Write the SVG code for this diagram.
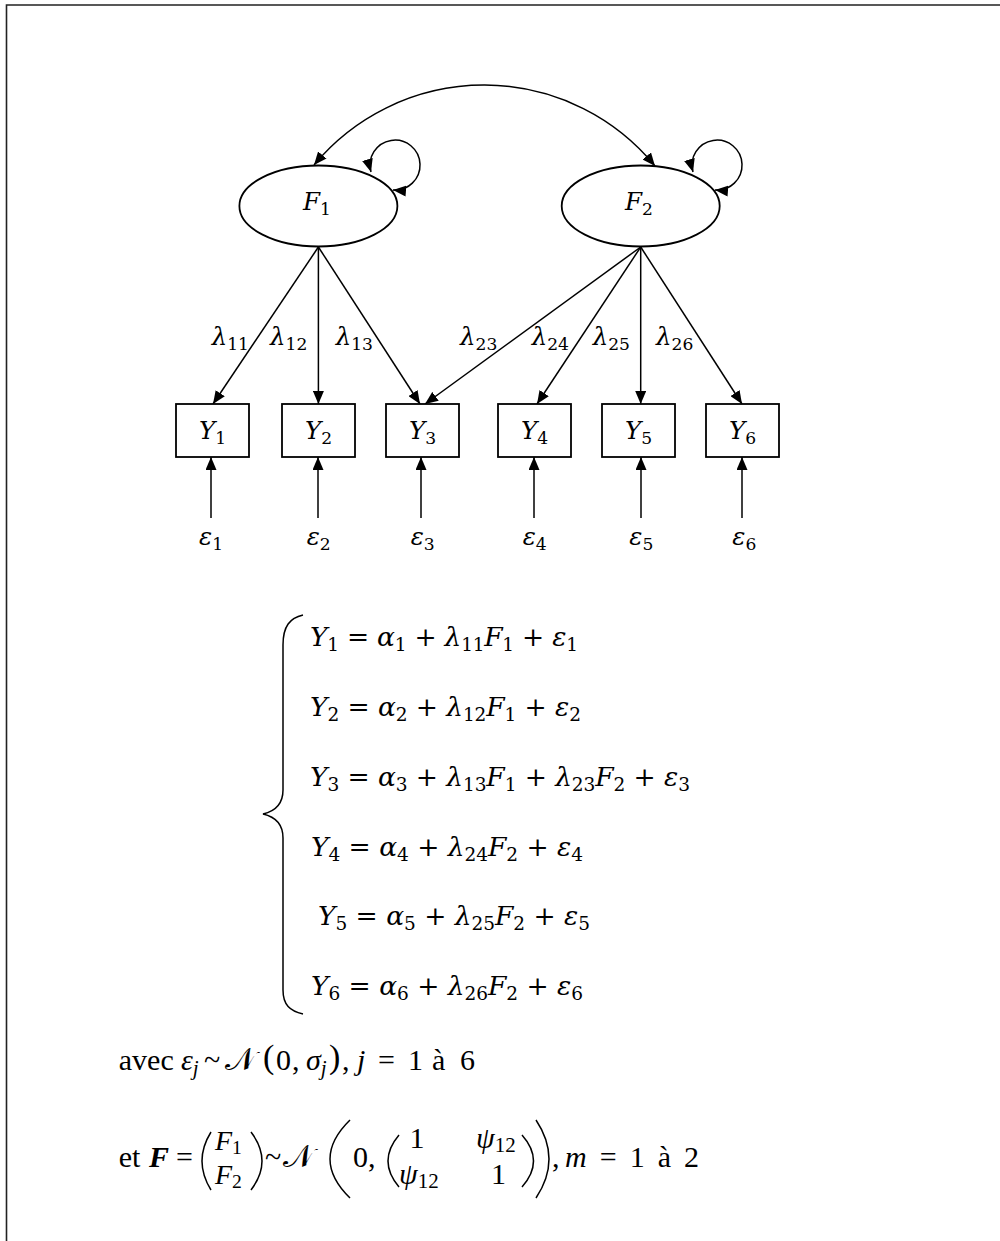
<svg xmlns="http://www.w3.org/2000/svg" width="1000" height="1241" viewBox="0 0 1000 1241">
<defs>
<marker id="ah" viewBox="0 0 13 11" markerWidth="13" markerHeight="11" refX="13" refY="5.5" orient="auto-start-reverse" markerUnits="userSpaceOnUse"><path d="M0,0 L13,5.5 L0,11 z" fill="#000"/></marker>
<style>
.frame{stroke:#222;stroke-width:1.6;fill:none}
.node{fill:#fff;stroke:#000;stroke-width:1.8}
.edge{fill:none;stroke:#000;stroke-width:1.5;marker-end:url(#ah)}
.both{marker-start:url(#ah)}
.m{font-family:"DejaVu Serif","Liberation Serif",serif;font-style:italic;fill:#000}
.u{font-style:normal}
.s{font-style:normal;font-size:0.7em}
.si{font-style:italic;font-size:0.7em}
.lab{font-size:24.5px}
.eq{font-size:26.5px}
.t{font-family:"Liberation Serif",serif;font-size:30px;fill:#000}
.i{font-style:italic}
.scr{font-family:"DejaVu Serif","DejaVu Sans","Noto Sans",serif;font-size:32px;fill:#000}
.par{font-size:34px}
.brk{fill:none;stroke:#000;stroke-width:1.5}
</style>
</defs>
<rect width="1000" height="1241" fill="#fff"/>
<path class="frame" d="M6.5 1241 V5 H1000"/>

<g id="connectors">
<path class="edge both" d="M314 165 A221 221 0 0 1 655 166"/>
<path class="edge both" d="M371 172 A25 25 0 1 1 393 190"/>
<path class="edge both" d="M693 172 A25 25 0 1 1 715 190"/>
<path class="edge" d="M318.4 247 L213 404"/>
<path class="edge" d="M318.4 247 L318.4 404"/>
<path class="edge" d="M318.4 247 L420 404"/>
<path class="edge" d="M640.7 247 L425 404"/>
<path class="edge" d="M640.7 247 L537 404"/>
<path class="edge" d="M640.7 247 L640.7 404"/>
<path class="edge" d="M640.7 247 L742 404"/>
<path class="edge" d="M211 518 L211 457"/>
<path class="edge" d="M318 518 L318 457"/>
<path class="edge" d="M421 518 L421 457"/>
<path class="edge" d="M534 518 L534 457"/>
<path class="edge" d="M641 518 L641 457"/>
<path class="edge" d="M742 518 L742 457"/>
<g class="m lab">
<text x="211.7" y="345">λ<tspan class="s" dy="5">11</tspan></text>
<text x="270" y="345">λ<tspan class="s" dy="5">12</tspan></text>
<text x="335.7" y="345">λ<tspan class="s" dy="5">13</tspan></text>
<text x="460" y="345">λ<tspan class="s" dy="5">23</tspan></text>
<text x="531.7" y="345">λ<tspan class="s" dy="5">24</tspan></text>
<text x="592.7" y="345">λ<tspan class="s" dy="5">25</tspan></text>
<text x="656" y="345">λ<tspan class="s" dy="5">26</tspan></text>
</g>
</g>

<g id="F1"><ellipse class="node" cx="318.4" cy="206" rx="79" ry="40.5"/><text class="m lab" x="317" y="210" text-anchor="middle">F<tspan class="s" dy="5">1</tspan></text></g>
<g id="F2"><ellipse class="node" cx="640.7" cy="206" rx="79" ry="40.5"/><text class="m lab" x="639" y="210" text-anchor="middle">F<tspan class="s" dy="5">2</tspan></text></g>

<g id="Y1"><rect class="node" x="176" y="404" width="73" height="53"/><text class="m lab" x="212.5" y="439" text-anchor="middle">Y<tspan class="s" dy="5">1</tspan></text></g>
<g id="Y2"><rect class="node" x="282" y="404" width="73" height="53"/><text class="m lab" x="318.5" y="439" text-anchor="middle">Y<tspan class="s" dy="5">2</tspan></text></g>
<g id="Y3"><rect class="node" x="386" y="404" width="73" height="53"/><text class="m lab" x="422.5" y="439" text-anchor="middle">Y<tspan class="s" dy="5">3</tspan></text></g>
<g id="Y4"><rect class="node" x="498" y="404" width="73" height="53"/><text class="m lab" x="534.5" y="439" text-anchor="middle">Y<tspan class="s" dy="5">4</tspan></text></g>
<g id="Y5"><rect class="node" x="602" y="404" width="73" height="53"/><text class="m lab" x="638.5" y="439" text-anchor="middle">Y<tspan class="s" dy="5">5</tspan></text></g>
<g id="Y6"><rect class="node" x="706" y="404" width="73" height="53"/><text class="m lab" x="742.5" y="439" text-anchor="middle">Y<tspan class="s" dy="5">6</tspan></text></g>

<g id="e1"><text class="m lab" x="199" y="545">ε<tspan class="s" dy="5">1</tspan></text></g>
<g id="e2"><text class="m lab" x="306.7" y="545">ε<tspan class="s" dy="5">2</tspan></text></g>
<g id="e3"><text class="m lab" x="410.7" y="545">ε<tspan class="s" dy="5">3</tspan></text></g>
<g id="e4"><text class="m lab" x="522.7" y="545">ε<tspan class="s" dy="5">4</tspan></text></g>
<g id="e5"><text class="m lab" x="629.3" y="545">ε<tspan class="s" dy="5">5</tspan></text></g>
<g id="e6"><text class="m lab" x="732.3" y="545">ε<tspan class="s" dy="5">6</tspan></text></g>

<g id="equations">
<path class="brk" d="M303 615 C290 618 283 626 283 645 L283 790 C283 803 276 811 263 814 C276 817 283 825 283 838 L283 990 C283 1005 290 1011 303 1014"/>
<text class="m eq" x="310" y="646" textLength="268" lengthAdjust="spacing">Y<tspan class="s" dy="5">1</tspan><tspan class="u" dy="-5"> = </tspan>α<tspan class="s" dy="5">1</tspan><tspan class="u" dy="-5"> + </tspan>λ<tspan class="s" dy="5">11</tspan><tspan dy="-5">F</tspan><tspan class="s" dy="5">1</tspan><tspan class="u" dy="-5"> + </tspan>ε<tspan class="s" dy="5">1</tspan></text>
<text class="m eq" x="310" y="716" textLength="271" lengthAdjust="spacing">Y<tspan class="s" dy="5">2</tspan><tspan class="u" dy="-5"> = </tspan>α<tspan class="s" dy="5">2</tspan><tspan class="u" dy="-5"> + </tspan>λ<tspan class="s" dy="5">12</tspan><tspan dy="-5">F</tspan><tspan class="s" dy="5">1</tspan><tspan class="u" dy="-5"> + </tspan>ε<tspan class="s" dy="5">2</tspan></text>
<text class="m eq" x="310" y="786" textLength="380" lengthAdjust="spacing">Y<tspan class="s" dy="5">3</tspan><tspan class="u" dy="-5"> = </tspan>α<tspan class="s" dy="5">3</tspan><tspan class="u" dy="-5"> + </tspan>λ<tspan class="s" dy="5">13</tspan><tspan dy="-5">F</tspan><tspan class="s" dy="5">1</tspan><tspan class="u" dy="-5"> + </tspan>λ<tspan class="s" dy="5">23</tspan><tspan dy="-5">F</tspan><tspan class="s" dy="5">2</tspan><tspan class="u" dy="-5"> + </tspan>ε<tspan class="s" dy="5">3</tspan></text>
<text class="m eq" x="311" y="856" textLength="272" lengthAdjust="spacing">Y<tspan class="s" dy="5">4</tspan><tspan class="u" dy="-5"> = </tspan>α<tspan class="s" dy="5">4</tspan><tspan class="u" dy="-5"> + </tspan>λ<tspan class="s" dy="5">24</tspan><tspan dy="-5">F</tspan><tspan class="s" dy="5">2</tspan><tspan class="u" dy="-5"> + </tspan>ε<tspan class="s" dy="5">4</tspan></text>
<text class="m eq" x="318" y="925" textLength="272" lengthAdjust="spacing">Y<tspan class="s" dy="5">5</tspan><tspan class="u" dy="-5"> = </tspan>α<tspan class="s" dy="5">5</tspan><tspan class="u" dy="-5"> + </tspan>λ<tspan class="s" dy="5">25</tspan><tspan dy="-5">F</tspan><tspan class="s" dy="5">2</tspan><tspan class="u" dy="-5"> + </tspan>ε<tspan class="s" dy="5">5</tspan></text>
<text class="m eq" x="311" y="995" textLength="272" lengthAdjust="spacing">Y<tspan class="s" dy="5">6</tspan><tspan class="u" dy="-5"> = </tspan>α<tspan class="s" dy="5">6</tspan><tspan class="u" dy="-5"> + </tspan>λ<tspan class="s" dy="5">26</tspan><tspan dy="-5">F</tspan><tspan class="s" dy="5">2</tspan><tspan class="u" dy="-5"> + </tspan>ε<tspan class="s" dy="5">6</tspan></text>

<g class="t">
<text x="118.75" y="1070">avec</text>
<text class="i" x="181" y="1070">ε<tspan class="si" dy="5">j</tspan></text>
<text x="204" y="1070">~</text>
<text class="scr" x="225" y="1070">𝒩</text>
<text class="par" x="263" y="1068">(</text>
<text x="276" y="1070">0</text>
<text x="292" y="1070">,</text>
<text class="i" x="306" y="1070">σ<tspan class="si" dy="5">j</tspan></text>
<text class="par" x="329" y="1068">)</text>
<text x="342" y="1070">,</text>
<text class="i" x="357" y="1070">j</text>
<text x="378" y="1070">=</text>
<text x="408" y="1070">1</text>
<text x="432" y="1070">à</text>
<text x="460" y="1070">6</text>
</g>

<g class="t">
<text x="118.75" y="1167">et</text>
<text x="149" y="1167" font-weight="bold" font-style="italic">F</text>
<text x="176" y="1167">=</text>
<text class="i" x="215" y="1150" font-size="28">F<tspan class="s" dy="4">1</tspan></text>
<text class="i" x="215" y="1184" font-size="28">F<tspan class="s" dy="4">2</tspan></text>
<text x="265" y="1167">~</text>
<text class="scr" x="283" y="1167">𝒩</text>
<text x="353" y="1167">0,</text>
<text x="409.5" y="1148">1</text>
<text class="i" x="476" y="1148">ψ<tspan class="s" dy="4">12</tspan></text>
<text class="i" x="399" y="1184">ψ<tspan class="s" dy="4">12</tspan></text>
<text x="491" y="1184">1</text>
<text x="552" y="1167">,</text>
<text class="i" x="565" y="1167">m</text>
<text x="599.7" y="1167">=</text>
<text x="629.7" y="1167">1</text>
<text x="657.7" y="1167">à</text>
<text x="684" y="1167">2</text>
</g>
<path class="brk" d="M211 1132 Q193 1161 211 1190"/>
<path class="brk" d="M251 1132 Q273 1161 251 1190"/>
<path class="brk" d="M350 1120 Q310 1159 350 1198"/>
<path class="brk" d="M399 1135 Q377 1161 399 1187"/>
<path class="brk" d="M522 1135 Q545 1161 522 1187"/>
<path class="brk" d="M536 1120 Q562 1159 536 1198"/>
</g>
</svg>
